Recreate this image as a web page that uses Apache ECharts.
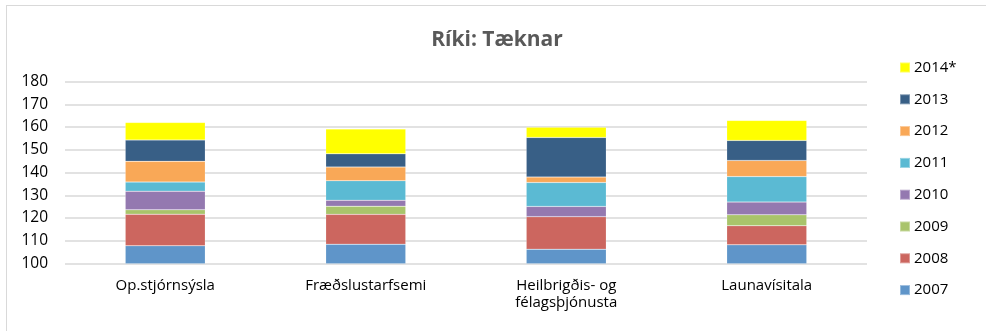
<!DOCTYPE html>
<html>
<head>
<meta charset="utf-8">
<script src="https://cdn.jsdelivr.net/npm/echarts@6/dist/echarts.min.js"></script>
<style>
  html, body { margin: 0; padding: 0; background: #fff; }
  #frame { position: absolute; left: 6px; top: 5px; width: 990px; height: 340px; border: 1px solid #d9d9d9; box-sizing: border-box; }
  #chart { position: absolute; left: 0; top: 0; width: 986px; height: 331px; }
</style>
</head>
<body>
<div id="frame"></div>
<div id="chart"></div>
<script>
// Categories along the x axis
const categories = ['Op.stjórnsýsla', 'Fræðslustarfsemi', 'Heilbrigðis- og\nfélagsþjónusta', 'Launavísitala'];

// Yearly segments stacked per category
const years = ['2007', '2008', '2009', '2010', '2011', '2012', '2013', '2014*'];
const v2007 = [107.8, 108.5, 106.3, 108.2];
const v2008 = [13.9, 13.1, 14.3, 8.4];
const v2009 = [1.9, 3.6, 0, 4.8];
const v2010 = [8.2, 2.6, 4.5, 5.6];
const v2011 = [4.0, 8.6, 10.5, 11.2];
const v2012 = [9.1, 6.0, 2.4, 7.1];
const v2013 = [9.4, 5.8, 17.4, 8.8];
const v2014 = [7.7, 10.9, 4.5, 8.8];
const values = [v2007, v2008, v2009, v2010, v2011, v2012, v2013, v2014];

const colors = ['#5f95c9', '#cc665f', '#a9c46b', '#9479b0', '#5bbad3', '#f9a857', '#385f86', '#ffff00'];

// Y axis range
const yMin = 100, yMax = 180, yStep = 10;

const font = 'Open Sans';

const chart = echarts.init(document.getElementById('chart'));
chart.setOption({
  animation: false,
  title: {
    text: 'Ríki: Tæknar',
    left: 497, top: 30, textAlign: 'center',
    padding: 0,
    textStyle: { fontFamily: font, fontSize: 21, fontWeight: 'bold', color: '#595959' }
  },
  legend: {
    orient: 'vertical',
    left: 899, top: 60,
    height: 270,
    padding: 0,
    itemWidth: 10, itemHeight: 10, itemGap: 16.8,
    icon: 'rect',
    data: years.slice().reverse(),
    textStyle: { fontFamily: font, fontSize: 15, color: '#000', padding: [0, 0, 0, -1] }
  },
  grid: { left: 65, right: 119, top: 81.5, bottom: 67.5 },
  xAxis: {
    type: 'category',
    data: categories,
    axisLine: { show: false },
    axisTick: { show: false },
    axisLabel: { fontFamily: font, fontSize: 15, color: '#000', margin: 14, lineHeight: 17 }
  },
  yAxis: {
    type: 'value',
    min: yMin, max: yMax, interval: yStep,
    axisLine: { show: false },
    axisTick: { show: false },
    axisLabel: { fontFamily: font, fontSize: 15.5, color: '#000', margin: 17 },
    splitLine: { lineStyle: { color: '#d9d9d9', width: 1.5 } }
  },
  series: years.map((y, i) => ({
    name: y,
    type: 'bar',
    stack: 'total',
    barWidth: 80,
    data: values[i],
    itemStyle: { color: colors[i], borderColor: 'rgba(255,255,255,0.35)', borderWidth: 0.5 }
  }))
});
</script>
</body>
</html>
